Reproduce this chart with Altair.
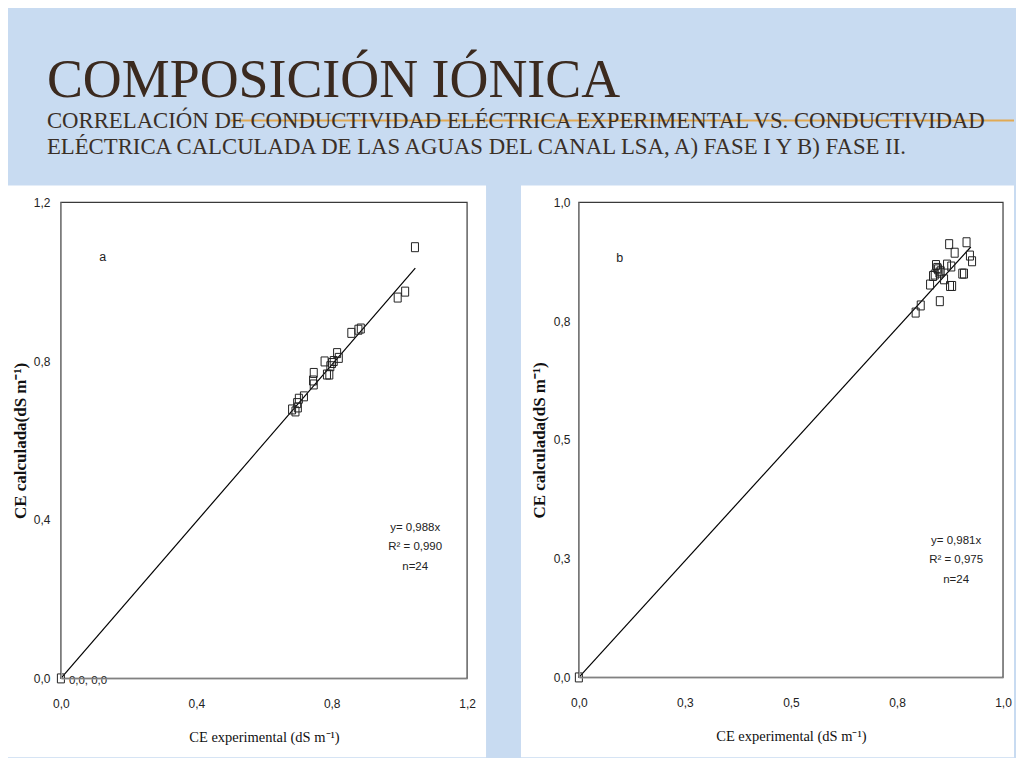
import altair as alt
import pandas as pd

# ---------------- data ----------------
a_x = [0.0, 0.683, 0.693, 0.698, 0.700, 0.703, 0.718, 0.745, 0.747, 0.747, 0.779, 0.786,
       0.793, 0.796, 0.801, 0.806, 0.816, 0.821, 0.858, 0.879, 0.886, 0.995, 1.017, 1.046]
a_y = [0.0, 0.678, 0.673, 0.694, 0.683, 0.705, 0.711, 0.751, 0.770, 0.741, 0.799, 0.766,
       0.766, 0.787, 0.795, 0.800, 0.820, 0.808, 0.871, 0.879, 0.882, 0.960, 0.975, 1.087]
a_line_x = [0.0, 1.047]
a_line_y = [0.0, 1.034]

b_x = [0.0, 0.794, 0.806, 0.828, 0.835, 0.839, 0.842, 0.845, 0.847, 0.850, 0.851, 0.853,
       0.861, 0.868, 0.873, 0.875, 0.878, 0.880, 0.886, 0.904, 0.908, 0.914, 0.922, 0.927]
b_y = [0.0, 0.768, 0.783, 0.827, 0.845, 0.848, 0.868, 0.862, 0.859, 0.852, 0.792, 0.855,
       0.838, 0.869, 0.912, 0.824, 0.865, 0.824, 0.894, 0.850, 0.850, 0.916, 0.888, 0.876]
b_line_x = [0.0, 0.924]
b_line_y = [0.0, 0.906]

a_ticks = [0.0, 0.4, 0.8, 1.2]
b_ticks = [0.0, 0.25, 0.5, 0.75, 1.0]

a_eq = ["y= 0,988x", "R² = 0,990", "n=24"]
b_eq = ["y= 0,981x", "R² = 0,975", "n=24"]
origin_label_a = ["0,0, 0,0"]

title_main = ["COMPOSICIÓN IÓNICA"]
subtitle_lines = ["CORRELACIÓN DE CONDUCTIVIDAD ELÉCTRICA EXPERIMENTAL  VS. CONDUCTIVIDAD",
                  "ELÉCTRICA CALCULADA DE LAS AGUAS DEL CANAL LSA, A) FASE I  Y B) FASE II."]
x_title = "CE experimental (dS m⁻¹)"
y_title = "CE calculada(dS m⁻¹)"

BLUE = "#c8dbf1"
LABEL_EXPR = "replace(format(datum.value, '.1f'), '.', ',')"
RECT_SHAPE = "M-0.78,-1L0.78,-1L0.78,1L-0.78,1Z"

one = pd.DataFrame({"k": [0]})


def box(x, x2, y, y2, **kw):
    return alt.Chart(one).mark_rect(**kw).encode(
        x=alt.value(x), x2=alt.value(x2), y=alt.value(y), y2=alt.value(y2))


def label(text, x, y, **kw):
    return alt.Chart(pd.DataFrame({"t": [text]})).mark_text(**kw).encode(
        text="t:N", x=alt.value(x), y=alt.value(y))


def panel(xs, ys, lx, ly, dom, ticks, w, h, letter, eq, eq_x, eq_y0,
          white, ytitle_pad, ylabel_pad, pre_layers):
    pts = pd.DataFrame({"x": xs, "y": ys})
    ln = pd.DataFrame({"x": lx, "y": ly})
    xaxis = alt.Axis(values=ticks, labelExpr=LABEL_EXPR, title=x_title, grid=False,
                     ticks=False, tickSize=0, domainColor="#9a9a9a", domainWidth=1.2,
                     labelPadding=20, labelFlush=False, labelOverlap=False,
                     labelFont="Liberation Sans", labelFontSize=12, labelColor="#222",
                     titleFont="Liberation Serif", titleFontSize=14.5,
                     titleFontWeight="normal", titleColor="#111", titlePadding=21,
                     zindex=1)
    yaxis = alt.Axis(values=ticks, labelExpr=LABEL_EXPR, title=y_title, grid=False,
                     ticks=False, tickSize=0, domainColor="#9a9a9a", domainWidth=1.2,
                     labelPadding=ylabel_pad, labelFlush=False, labelOverlap=False,
                     labelFont="Liberation Sans", labelFontSize=12, labelColor="#222",
                     titleFont="Liberation Serif", titleFontSize=17,
                     titleFontWeight="bold", titleColor="#111", titlePadding=ytitle_pad,
                     zindex=1)
    xs_ = alt.Scale(domain=dom, nice=False, zero=False)
    ys_ = alt.Scale(domain=dom, nice=False, zero=False)

    frame = box(0, w, 0, h, fill="transparent", stroke="#3a3a3a", strokeWidth=1.2)
    line = alt.Chart(ln).mark_line(color="#000", strokeWidth=1.2).encode(
        x=alt.X("x:Q", scale=xs_, axis=xaxis), y=alt.Y("y:Q", scale=ys_, axis=yaxis))
    points = alt.Chart(pts).mark_point(shape=RECT_SHAPE, filled=False, size=81,
                                        stroke="#222", strokeWidth=1, opacity=1).encode(
        x=alt.X("x:Q", scale=xs_), y=alt.Y("y:Q", scale=ys_))
    layers = list(pre_layers) + [box(*white, fill="white"), frame, line, points,
                                 label(letter[0], letter[1], letter[2], font="Liberation Sans",
                                       fontSize=12.5, color="#222", align="center")]
    for i, t in enumerate(eq):
        layers.append(label(t, eq_x, eq_y0 + 19.5 * i, font="Liberation Sans",
                            fontSize=11.5, color="#222", align="center"))
    return alt.layer(*layers).properties(width=w, height=h)


# decorations for the slide (drawn in panel a's coordinate frame)
pre_a = [
    box(-53, 955, -194, 556, fill=BLUE),
    alt.Chart(one).mark_rule(color="#e3a443", strokeWidth=2.2, opacity=0.9).encode(
        x=alt.value(170), x2=alt.value(955), y=alt.value(-82)),
    label(title_main[0], -14, -106, font="Liberation Serif", fontSize=54,
          color="#3b2a1f", align="left", baseline="alphabetic"),
    label(subtitle_lines[0], -14, -75, font="Liberation Serif", fontSize=22.8,
          color="#3a2f27", align="left", baseline="alphabetic"),
    label(subtitle_lines[1], -14, -48, font="Liberation Serif", fontSize=22.8,
          color="#3a2f27", align="left", baseline="alphabetic"),
]

panel_a = panel(a_x, a_y, a_line_x, a_line_y, [0, 1.2], a_ticks, 407, 477,
                ("a", 42, 55), a_eq, 355, 326, (-53, 426, -17, 556), 4, 11, pre_a)
origin_txt = alt.Chart(pd.DataFrame({"x": [0.0], "y": [0.0], "t": origin_label_a})).mark_text(
    font="Liberation Sans", fontSize=11.5, color="#222", align="left", dx=8, dy=3).encode(
    x=alt.X("x:Q"), y=alt.Y("y:Q"), text="t:N")
panel_a = alt.layer(panel_a, origin_txt)

panel_b = panel(b_x, b_y, b_line_x, b_line_y, [0, 1.0], b_ticks, 425, 476,
                ("b", 41, 56), b_eq, 378, 339, (-58, 436, -17, 556), 5, 9, [])

chart = alt.hconcat(panel_a, panel_b, spacing=112, bounds="flush").properties(
    padding=0, background=BLUE
).configure_view(stroke=None)

chart.save("out.html", embed_options={"renderer": "svg", "actions": False})
